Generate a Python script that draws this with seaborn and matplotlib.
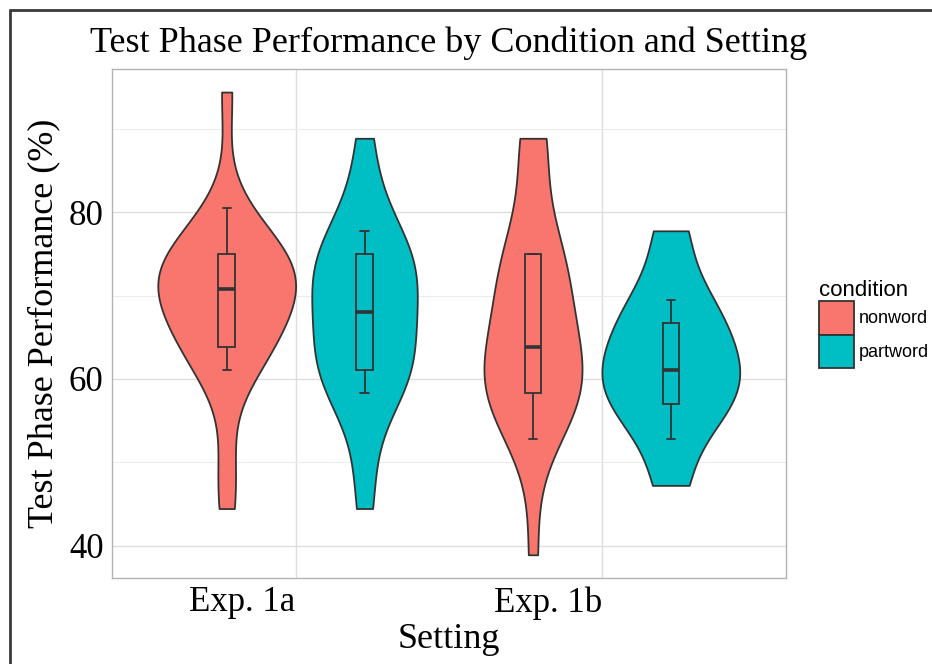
import pandas as pd
import matplotlib
matplotlib.use("Agg")
import matplotlib.pyplot as plt
import seaborn as sns
from matplotlib.patches import Patch
from matplotlib.lines import Line2D

settings = ["Exp. 1a", "Exp. 1b"]
conditions = ["nonword", "partword"]
colors = ["#F8766D", "#00BFC4"]

# test phase score (%) per participant
nonword_1a = [44.44, 50.00, 61.11, 61.11, 63.89, 63.89, 63.89, 66.67, 66.67, 69.44, 69.44, 69.44,
              72.22, 72.22, 72.22, 72.22, 72.22, 75.00, 75.00, 75.00, 75.00, 77.78, 80.56, 94.44]
partword_1a = [44.44, 50.00, 58.33, 58.33, 58.33, 61.11, 61.11, 61.11, 63.89, 63.89, 66.67, 66.67,
               69.44, 69.44, 72.22, 72.22, 72.22, 75.00, 75.00, 75.00, 77.78, 77.78, 83.33, 88.89]
nonword_1b = [38.89, 52.78, 55.56, 55.56, 58.33, 58.33, 58.33, 58.33, 61.11, 61.11, 61.11, 63.89,
              63.89, 66.67, 69.44, 69.44, 72.22, 75.00, 75.00, 75.00, 75.00, 86.11, 88.89, 88.89]
partword_1b = [47.22, 47.22, 52.78, 55.56, 55.56, 55.56, 58.33, 58.33, 58.33, 61.11, 61.11, 61.11,
               61.11, 63.89, 63.89, 66.67, 66.67, 66.67, 69.44, 69.44, 72.22, 77.78, 77.78]

groups = [("Exp. 1a", "nonword", nonword_1a), ("Exp. 1a", "partword", partword_1a),
          ("Exp. 1b", "nonword", nonword_1b), ("Exp. 1b", "partword", partword_1b)]
rows = []
for setting, cond, vals in groups:
    for v in vals:
        rows.append((setting, cond, v))
df = pd.DataFrame(rows, columns=["setting", "condition", "score"])

sns.set_theme(style="white")
plt.rcParams["font.family"] = ["Liberation Serif", "DejaVu Serif"]
plt.rcParams["text.color"] = "black"
plt.rcParams["axes.labelcolor"] = "black"

fig = plt.figure(figsize=(9.32, 6.64), dpi=100)
ax = fig.add_axes([0.120, 0.1295, 0.723, 0.7665])

edge = "#333333"
sns.violinplot(data=df, x="setting", y="score", hue="condition", order=settings,
               hue_order=conditions, palette=colors, saturation=1, inner=None, cut=0,
               width=0.9, gap=0, linewidth=1.3, linecolor=edge, density_norm="area",
               bw_adjust=0.95, legend=False, ax=ax)
sns.boxplot(data=df, x="setting", y="score", hue="condition", order=settings,
            hue_order=conditions, palette=colors, saturation=1, width=0.9, gap=0.88,
            whis=0.55, showfliers=False, linewidth=1.3, linecolor=edge,
            medianprops={"linewidth": 2.6}, legend=False, ax=ax)

ax.set_xlim(-0.6, 1.6)
ax.set_ylim(36.1, 97.2)
ax.set_yticks([40, 60, 80])
ax.set_yticks([50, 70, 90], minor=True)
ax.grid(which="major", color="#DEDEDE", linewidth=1.0)
ax.grid(which="minor", axis="y", color="#EBEBEB", linewidth=0.7)
ax.set_axisbelow(True)
for s in ax.spines.values():
    s.set_color("#B3B3B3")
    s.set_linewidth(1.0)
ax.tick_params(axis="both", which="major", length=4, color="#B3B3B3", width=1,
               labelsize=25, pad=2, labelcolor="black")
ax.tick_params(axis="y", which="minor", length=0)
for lab in ax.get_xticklabels():
    lab.set_horizontalalignment("right")

ax.set_title("Test Phase Performance by Condition and Setting", fontsize=26, pad=12)
ax.set_xlabel("Setting", fontsize=26, labelpad=2)
ax.set_ylabel("Test Phase Performance (%)", fontsize=26, labelpad=6)

handles = [Patch(facecolor=c, edgecolor=edge, linewidth=1.3) for c in colors]
leg = fig.legend(handles, conditions, loc="center left",
                 bbox_to_anchor=(812 / 932, 1 - 324 / 664), frameon=False,
                 title="condition", prop={"family": "Liberation Sans", "size": 13},
                 handlelength=1.9, handleheight=2.5, labelspacing=0.0,
                 handletextpad=0.3, borderaxespad=0)
leg.get_title().set_fontfamily("Liberation Sans")
leg.get_title().set_fontsize(16)
leg._legend_box.align = "left"

# frame lines along the left and top edge of the picture
fig.add_artist(Line2D([10 / 932, 10 / 932], [0, 1 - 10 / 664], transform=fig.transFigure,
                      color="#3a3a3a", linewidth=2))
fig.add_artist(Line2D([10 / 932, 1], [1 - 10 / 664, 1 - 10 / 664], transform=fig.transFigure,
                      color="#3a3a3a", linewidth=2))

fig.savefig("out.png", dpi=100)
